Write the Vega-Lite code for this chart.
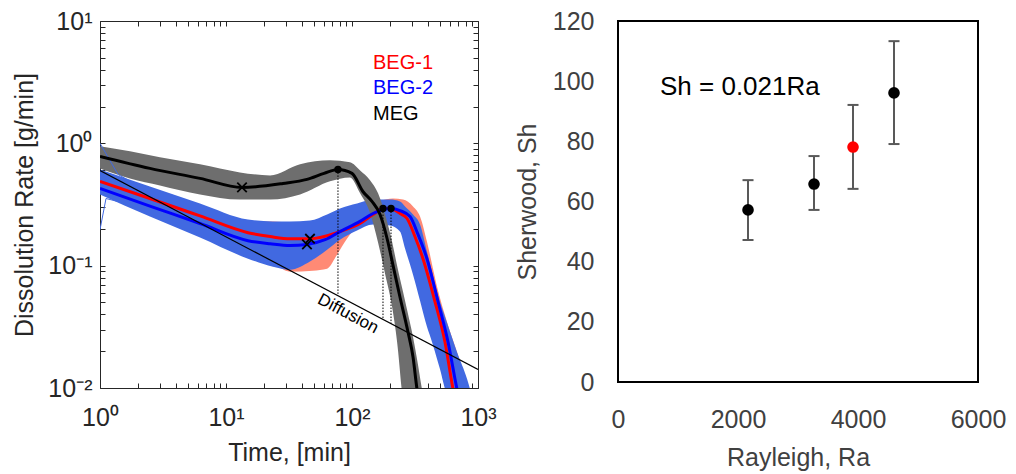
{
  "$schema": "https://vega.github.io/schema/vega-lite/v6.json",
  "padding": {"left": 12, "top": 8, "right": 5, "bottom": 5},
  "bounds": "flush",
  "spacing": 140,
  "resolve": {"scale": {"color": "independent"}},
  "config": {"font": "Liberation Sans", "axis": {"grid": false}},
  "datasets": {
    "meg_band": [
      {"t": 1, "hi": 0.945, "lo": 0.624},
      {"t": 1.73, "hi": 0.86, "lo": 0.517},
      {"t": 2.99, "hi": 0.768, "lo": 0.453},
      {"t": 6.22, "hi": 0.673, "lo": 0.382},
      {"t": 12.9, "hi": 0.578, "lo": 0.347},
      {"t": 22.4, "hi": 0.547, "lo": 0.347},
      {"t": 38.7, "hi": 0.673, "lo": 0.382},
      {"t": 66.9, "hi": 0.726, "lo": 0.489},
      {"t": 96.4, "hi": 0.699, "lo": 0.526},
      {"t": 116, "hi": 0.6, "lo": 0.39},
      {"t": 139, "hi": 0.5, "lo": 0.27},
      {"t": 161, "hi": 0.39, "lo": 0.155},
      {"t": 183, "hi": 0.262, "lo": 0.0859},
      {"t": 208, "hi": 0.157, "lo": 0.0461},
      {"t": 228, "hi": 0.1, "lo": 0.0238},
      {"t": 254, "hi": 0.0612, "lo": 0.00768},
      {"t": 278, "hi": 0.0404, "lo": 0.004},
      {"t": 299, "hi": 0.0288, "lo": 0.004},
      {"t": 328, "hi": 0.0173, "lo": 0.004},
      {"t": 359, "hi": 0.0098, "lo": 0.004},
      {"t": 387, "hi": 0.00636, "lo": 0.004}
    ],
    "beg2_band": [
      {"t": 1, "hi": 0.612, "lo": 0.382},
      {"t": 2.49, "hi": 0.444, "lo": 0.252},
      {"t": 6.22, "hi": 0.322, "lo": 0.17},
      {"t": 14.95, "hi": 0.238, "lo": 0.114},
      {"t": 23.6, "hi": 0.23, "lo": 0.098},
      {"t": 32.2, "hi": 0.23, "lo": 0.0927},
      {"t": 46.4, "hi": 0.234, "lo": 0.108},
      {"t": 63.4, "hi": 0.262, "lo": 0.135},
      {"t": 80.3, "hi": 0.293, "lo": 0.163},
      {"t": 109.6, "hi": 0.322, "lo": 0.194},
      {"t": 146.8, "hi": 0.347, "lo": 0.217},
      {"t": 200.3, "hi": 0.347, "lo": 0.213},
      {"t": 240.4, "hi": 0.335, "lo": 0.19},
      {"t": 263.6, "hi": 0.305, "lo": 0.138},
      {"t": 305, "hi": 0.262, "lo": 0.0844},
      {"t": 346.7, "hi": 0.217, "lo": 0.0516},
      {"t": 393.6, "hi": 0.13, "lo": 0.0316},
      {"t": 431.5, "hi": 0.0893, "lo": 0.0238},
      {"t": 473, "hi": 0.0612, "lo": 0.0173},
      {"t": 499, "hi": 0.0507, "lo": 0.0143},
      {"t": 547, "hi": 0.0382, "lo": 0.0098},
      {"t": 600, "hi": 0.0288, "lo": 0.007},
      {"t": 681, "hi": 0.0197, "lo": 0.005},
      {"t": 818, "hi": 0.0119, "lo": 0.005},
      {"t": 913, "hi": 0.00798, "lo": 0.005}
    ],
    "beg1_band": [
      {"t": 1, "hi": 0.536, "lo": 0.404},
      {"t": 6.22, "hi": 0.305, "lo": 0.19},
      {"t": 14.95, "hi": 0.23, "lo": 0.13},
      {"t": 23.6, "hi": 0.23, "lo": 0.104},
      {"t": 32.2, "hi": 0.225, "lo": 0.0893},
      {"t": 49.0, "hi": 0.225, "lo": 0.091},
      {"t": 63.4, "hi": 0.252, "lo": 0.0945},
      {"t": 76.0, "hi": 0.272, "lo": 0.123},
      {"t": 91.2, "hi": 0.293, "lo": 0.166},
      {"t": 109.6, "hi": 0.31, "lo": 0.209},
      {"t": 131.6, "hi": 0.329, "lo": 0.243},
      {"t": 166.8, "hi": 0.341, "lo": 0.252},
      {"t": 211.5, "hi": 0.354, "lo": 0.234},
      {"t": 254, "hi": 0.347, "lo": 0.173},
      {"t": 305, "hi": 0.305, "lo": 0.098},
      {"t": 346.7, "hi": 0.252, "lo": 0.0612},
      {"t": 393.6, "hi": 0.157, "lo": 0.0389},
      {"t": 473, "hi": 0.0673, "lo": 0.019},
      {"t": 567, "hi": 0.0348, "lo": 0.0089},
      {"t": 681, "hi": 0.0197, "lo": 0.005},
      {"t": 818, "hi": 0.0112, "lo": 0.005},
      {"t": 913, "hi": 0.00798, "lo": 0.005}
    ],
    "means": [
      {"series": "MEG", "t": 1, "r": 0.782},
      {"series": "MEG", "t": 2.49, "r": 0.624},
      {"series": "MEG", "t": 6.22, "r": 0.517},
      {"series": "MEG", "t": 13.4, "r": 0.436},
      {"series": "MEG", "t": 28.3, "r": 0.47},
      {"series": "MEG", "t": 43.9, "r": 0.507},
      {"series": "MEG", "t": 60, "r": 0.568},
      {"series": "MEG", "t": 77.4, "r": 0.612},
      {"series": "MEG", "t": 100, "r": 0.568},
      {"series": "MEG", "t": 122, "r": 0.404},
      {"series": "MEG", "t": 144, "r": 0.335},
      {"series": "MEG", "t": 167, "r": 0.262},
      {"series": "MEG", "t": 190, "r": 0.166},
      {"series": "MEG", "t": 211, "r": 0.102},
      {"series": "MEG", "t": 240, "r": 0.0557},
      {"series": "MEG", "t": 278, "r": 0.0288},
      {"series": "MEG", "t": 305, "r": 0.0179},
      {"series": "MEG", "t": 328, "r": 0.0098},
      {"series": "MEG", "t": 347, "r": 0.007},
      {"series": "BEG-1", "t": 1, "r": 0.489},
      {"series": "BEG-1", "t": 2.49, "r": 0.354},
      {"series": "BEG-1", "t": 6.22, "r": 0.255},
      {"series": "BEG-1", "t": 14.95, "r": 0.186},
      {"series": "BEG-1", "t": 22.4, "r": 0.173},
      {"series": "BEG-1", "t": 32.2, "r": 0.166},
      {"series": "BEG-1", "t": 46.4, "r": 0.166},
      {"series": "BEG-1", "t": 80.3, "r": 0.19},
      {"series": "BEG-1", "t": 115.7, "r": 0.221},
      {"series": "BEG-1", "t": 146.8, "r": 0.262},
      {"series": "BEG-1", "t": 176.2, "r": 0.293},
      {"series": "BEG-1", "t": 200.3, "r": 0.293},
      {"series": "BEG-1", "t": 240.4, "r": 0.267},
      {"series": "BEG-1", "t": 273.5, "r": 0.243},
      {"series": "BEG-1", "t": 316, "r": 0.173},
      {"series": "BEG-1", "t": 366, "r": 0.114},
      {"series": "BEG-1", "t": 456, "r": 0.0507},
      {"series": "BEG-1", "t": 547, "r": 0.0238},
      {"series": "BEG-1", "t": 634, "r": 0.0098},
      {"series": "BEG-1", "t": 681, "r": 0.007},
      {"series": "BEG-2", "t": 1, "r": 0.428},
      {"series": "BEG-2", "t": 2.49, "r": 0.307},
      {"series": "BEG-2", "t": 6.22, "r": 0.221},
      {"series": "BEG-2", "t": 14.95, "r": 0.16},
      {"series": "BEG-2", "t": 22.4, "r": 0.151},
      {"series": "BEG-2", "t": 32.2, "r": 0.146},
      {"series": "BEG-2", "t": 43.9, "r": 0.149},
      {"series": "BEG-2", "t": 61.1, "r": 0.163},
      {"series": "BEG-2", "t": 80.3, "r": 0.19},
      {"series": "BEG-2", "t": 115.7, "r": 0.23},
      {"series": "BEG-2", "t": 146.8, "r": 0.267},
      {"series": "BEG-2", "t": 176.2, "r": 0.288},
      {"series": "BEG-2", "t": 204, "r": 0.293},
      {"series": "BEG-2", "t": 240.4, "r": 0.282},
      {"series": "BEG-2", "t": 288.6, "r": 0.252},
      {"series": "BEG-2", "t": 334, "r": 0.18},
      {"series": "BEG-2", "t": 393.6, "r": 0.114},
      {"series": "BEG-2", "t": 482, "r": 0.0507},
      {"series": "BEG-2", "t": 578, "r": 0.0238},
      {"series": "BEG-2", "t": 681, "r": 0.0098},
      {"series": "BEG-2", "t": 733, "r": 0.007}
    ],
    "strays": [
      {"id": "a", "t": 1, "r": 1.0},
      {"id": "a", "t": 1.39, "r": 0.557},
      {"id": "a", "t": 1.8, "r": 0.48},
      {"id": "b", "t": 1, "r": 0.197},
      {"id": "b", "t": 1.116, "r": 0.354},
      {"id": "b", "t": 1.73, "r": 0.316}
    ],
    "diffusion": [
      {"t": 1, "r": 0.6},
      {"t": 1000, "r": 0.0142}
    ],
    "peaks": [
      {"series": "MEG", "t": 77.4, "r": 0.612, "foot": 0.058},
      {"series": "BEG-1", "t": 176.2, "r": 0.293, "foot": 0.0368},
      {"series": "BEG-2", "t": 204, "r": 0.293, "foot": 0.0336}
    ],
    "minima": [
      {"series": "MEG", "t": 13.4, "r": 0.436},
      {"series": "BEG-1", "t": 46.4, "r": 0.166},
      {"series": "BEG-2", "t": 43.9, "r": 0.149}
    ],
    "legend_text": [
      {"label": "BEG-1", "t": 146.8, "r": 4.53},
      {"label": "BEG-2", "t": 146.8, "r": 2.82},
      {"label": "MEG", "t": 146.8, "r": 1.73}
    ],
    "diff_label": [
      {"label": "Diffusion", "t": 93, "r": 0.0404}
    ],
    "sherwood": [
      {"Ra": 2167, "Sh": 57.2, "lo": 47.2, "hi": 67.1, "group": "other"},
      {"Ra": 3267, "Sh": 65.8, "lo": 57.2, "hi": 75.1, "group": "other"},
      {"Ra": 3917, "Sh": 78.1, "lo": 64.2, "hi": 92.1, "group": "highlight"},
      {"Ra": 4600, "Sh": 96.1, "lo": 79.1, "hi": 113.3, "group": "other"}
    ],
    "fit_label": [
      {"label": "Sh = 0.021Ra", "Ra": 700, "Sh": 98}
    ]
  },
  "hconcat": [
    {
      "width": 378,
      "height": 367,
      "view": {"stroke": "#262626", "strokeWidth": 1},
      "resolve": {"axis": {"x": "independent", "y": "independent"}},
      "layer": [
        {
          "data": {"name": "beg1_band"},
          "mark": {"type": "area", "clip": true, "interpolate": "monotone", "color": "#ff6347", "opacity": 0.75},
          "encoding": {
            "x": {"field": "t", "type": "quantitative", "scale": {"type": "log", "domain": [1, 1000], "nice": false},
              "axis": {"orient": "bottom", "title": "Time, [min]",
                "values": [1,2,3,4,5,6,7,8,9,10,20,30,40,50,60,70,80,90,100,200,300,400,500,600,700,800,900,1000],
                "labelExpr": "datum.value==1?'10⁰':datum.value==10?'10¹':datum.value==100?'10²':datum.value==1000?'10³':''",
                "tickSize": -5, "tickColor": "#262626", "domain": false, "labelOverlap": false, "labelFlush": false, "labelBound": false,
                "labelFontSize": 25, "labelColor": "#262626", "labelPadding": 22,
                "titleFontSize": 25, "titleFontWeight": "normal", "titleColor": "#262626", "titlePadding": 10}},
            "y": {"field": "hi", "type": "quantitative", "scale": {"type": "log", "domain": [0.01, 10], "nice": false},
              "axis": {"orient": "left", "title": "Dissolution Rate [g/min]",
                "values": [0.01,0.02,0.03,0.04,0.05,0.06,0.07,0.08,0.09,0.1,0.2,0.3,0.4,0.5,0.6,0.7,0.8,0.9,1,2,3,4,5,6,7,8,9,10],
                "labelExpr": "datum.value==0.01?'10⁻²':datum.value==0.1?'10⁻¹':datum.value==1?'10⁰':datum.value==10?'10¹':''",
                "tickSize": -5, "tickColor": "#262626", "domain": false, "labelOverlap": false, "labelFlush": false, "labelBound": false,
                "labelFontSize": 25, "labelColor": "#262626", "labelPadding": 13,
                "titleFontSize": 25, "titleFontWeight": "normal", "titleColor": "#262626", "titlePadding": 10}},
            "y2": {"field": "lo"}
          }
        },
        {
          "data": {"name": "beg2_band"},
          "mark": {"type": "area", "clip": true, "interpolate": "monotone", "color": "#4169e1", "opacity": 1},
          "encoding": {
            "x": {"field": "t", "type": "quantitative", "scale": {"type": "log", "domain": [1, 1000], "nice": false},
              "axis": {"orient": "top", "title": null, "labels": false,
                "values": [1,2,3,4,5,6,7,8,9,10,20,30,40,50,60,70,80,90,100,200,300,400,500,600,700,800,900,1000],
                "tickSize": -5, "tickColor": "#262626", "domain": false}},
            "y": {"field": "hi", "type": "quantitative", "scale": {"type": "log", "domain": [0.01, 10], "nice": false},
              "axis": {"orient": "right", "title": null, "labels": false,
                "values": [0.01,0.02,0.03,0.04,0.05,0.06,0.07,0.08,0.09,0.1,0.2,0.3,0.4,0.5,0.6,0.7,0.8,0.9,1,2,3,4,5,6,7,8,9,10],
                "tickSize": -5, "tickColor": "#262626", "domain": false}},
            "y2": {"field": "lo"}
          }
        },
        {
          "data": {"name": "meg_band"},
          "mark": {"type": "area", "clip": true, "interpolate": "monotone", "color": "#6e6e6e", "opacity": 1},
          "encoding": {
            "x": {"field": "t", "type": "quantitative", "axis": null},
            "y": {"field": "hi", "type": "quantitative", "axis": null},
            "y2": {"field": "lo"}
          }
        },
        {
          "data": {"name": "strays"},
          "mark": {"type": "line", "clip": true, "color": "#4169e1", "strokeWidth": 1},
          "encoding": {
            "x": {"field": "t", "type": "quantitative", "axis": null},
            "y": {"field": "r", "type": "quantitative", "axis": null},
            "detail": {"field": "id"}
          }
        },
        {
          "data": {"name": "means"},
          "transform": [{"filter": "datum.series === 'BEG-1'"}],
          "mark": {"type": "line", "clip": true, "interpolate": "monotone", "color": "#ff0000", "strokeWidth": 3},
          "encoding": {
            "x": {"field": "t", "type": "quantitative", "axis": null},
            "y": {"field": "r", "type": "quantitative", "axis": null}
          }
        },
        {
          "data": {"name": "means"},
          "transform": [{"filter": "datum.series === 'BEG-2'"}],
          "mark": {"type": "line", "clip": true, "interpolate": "monotone", "color": "#0000ff", "strokeWidth": 3},
          "encoding": {
            "x": {"field": "t", "type": "quantitative", "axis": null},
            "y": {"field": "r", "type": "quantitative", "axis": null}
          }
        },
        {
          "data": {"name": "means"},
          "transform": [{"filter": "datum.series === 'MEG'"}],
          "mark": {"type": "line", "clip": true, "interpolate": "monotone", "color": "#000000", "strokeWidth": 3},
          "encoding": {
            "x": {"field": "t", "type": "quantitative", "axis": null},
            "y": {"field": "r", "type": "quantitative", "axis": null}
          }
        },
        {
          "data": {"name": "diffusion"},
          "mark": {"type": "line", "clip": true, "color": "#000000", "strokeWidth": 1.2},
          "encoding": {
            "x": {"field": "t", "type": "quantitative", "axis": null},
            "y": {"field": "r", "type": "quantitative", "axis": null}
          }
        },
        {
          "data": {"name": "peaks"},
          "mark": {"type": "rule", "clip": true, "color": "#000000", "strokeWidth": 1, "strokeDash": [1.5, 1.5]},
          "encoding": {
            "x": {"field": "t", "type": "quantitative", "axis": null},
            "y": {"field": "r", "type": "quantitative", "axis": null},
            "y2": {"field": "foot"}
          }
        },
        {
          "data": {"name": "peaks"},
          "mark": {"type": "point", "filled": true, "color": "#000000", "size": 55, "opacity": 1},
          "encoding": {
            "x": {"field": "t", "type": "quantitative", "axis": null},
            "y": {"field": "r", "type": "quantitative", "axis": null}
          }
        },
        {
          "data": {"name": "minima"},
          "mark": {"type": "point", "shape": "M-1,-1L1,1M-1,1L1,-1", "filled": false, "color": "#000000", "strokeWidth": 1.8, "size": 90, "opacity": 1},
          "encoding": {
            "x": {"field": "t", "type": "quantitative", "axis": null},
            "y": {"field": "r", "type": "quantitative", "axis": null}
          }
        },
        {
          "data": {"name": "diff_label"},
          "mark": {"type": "text", "angle": 28, "fontSize": 17, "color": "#000000", "align": "center", "baseline": "middle"},
          "encoding": {
            "x": {"field": "t", "type": "quantitative", "axis": null},
            "y": {"field": "r", "type": "quantitative", "axis": null},
            "text": {"field": "label"}
          }
        },
        {
          "data": {"name": "legend_text"},
          "mark": {"type": "text", "fontSize": 20, "align": "left", "baseline": "middle"},
          "encoding": {
            "x": {"field": "t", "type": "quantitative", "axis": null},
            "y": {"field": "r", "type": "quantitative", "axis": null},
            "text": {"field": "label"},
            "color": {"field": "label", "type": "nominal", "scale": {"domain": ["BEG-1", "BEG-2", "MEG"], "range": ["#ff0000", "#0000ff", "#000000"]}, "legend": null}
          }
        }
      ]
    },
    {
      "width": 360,
      "height": 361,
      "view": {"stroke": "#000000", "strokeWidth": 2},
      "layer": [
        {
          "data": {"name": "sherwood"},
          "mark": {"type": "rule", "color": "#595959", "strokeWidth": 2},
          "encoding": {
            "x": {"field": "Ra", "type": "quantitative", "scale": {"domain": [0, 6000], "nice": false},
              "axis": {"title": "Rayleigh, Ra", "values": [0, 2000, 4000, 6000], "format": "d", "ticks": false, "domain": false,
                "labelFontSize": 25, "labelColor": "#404040", "labelPadding": 25, "labelFlush": false, "labelOverlap": false,
                "titleFontSize": 25, "titleFontWeight": "normal", "titleColor": "#404040", "titlePadding": 13}},
            "y": {"field": "lo", "type": "quantitative", "scale": {"domain": [0, 120], "nice": false},
              "axis": {"title": "Sherwood, Sh", "values": [0, 20, 40, 60, 80, 100, 120], "ticks": false, "domain": false,
                "labelFontSize": 25, "labelColor": "#404040", "labelPadding": 24, "labelFlush": false, "labelOverlap": false,
                "titleFontSize": 25, "titleFontWeight": "normal", "titleColor": "#404040", "titlePadding": 12}},
            "y2": {"field": "hi"}
          }
        },
        {
          "data": {"name": "sherwood"},
          "mark": {"type": "point", "shape": "M-1,0L1,0", "filled": false, "color": "#595959", "strokeWidth": 2, "size": 121, "opacity": 1},
          "encoding": {
            "x": {"field": "Ra", "type": "quantitative"},
            "y": {"field": "lo", "type": "quantitative"}
          }
        },
        {
          "data": {"name": "sherwood"},
          "mark": {"type": "point", "shape": "M-1,0L1,0", "filled": false, "color": "#595959", "strokeWidth": 2, "size": 121, "opacity": 1},
          "encoding": {
            "x": {"field": "Ra", "type": "quantitative"},
            "y": {"field": "hi", "type": "quantitative"}
          }
        },
        {
          "data": {"name": "sherwood"},
          "mark": {"type": "point", "filled": true, "size": 135, "opacity": 1},
          "encoding": {
            "x": {"field": "Ra", "type": "quantitative"},
            "y": {"field": "Sh", "type": "quantitative"},
            "color": {"field": "group", "type": "nominal", "scale": {"domain": ["other", "highlight"], "range": ["#000000", "#ff0000"]}, "legend": null}
          }
        },
        {
          "data": {"name": "fit_label"},
          "mark": {"type": "text", "fontSize": 26, "align": "left", "baseline": "middle", "color": "#000000"},
          "encoding": {
            "x": {"field": "Ra", "type": "quantitative"},
            "y": {"field": "Sh", "type": "quantitative"},
            "text": {"field": "label"}
          }
        }
      ]
    }
  ]
}
